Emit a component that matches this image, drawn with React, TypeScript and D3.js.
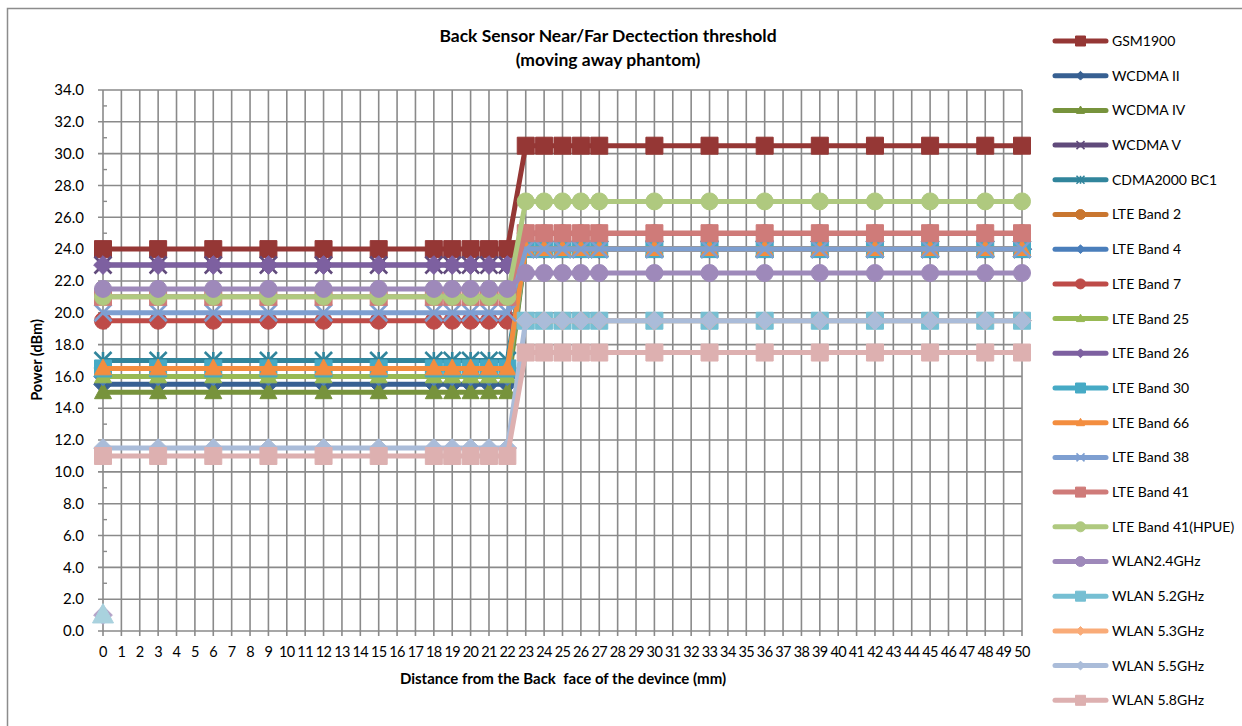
import React from "react";
import * as d3 from "d3";

const distances: number[] = [0, 3, 6, 9, 12, 15, 18, 19, 20, 21, 22, 23, 24, 25, 26, 27, 30, 33, 36, 39, 42, 45, 48, 50];
const categories: number[] = d3.range(0, 51);
const yTicks: number[] = [0, 2, 4, 6, 8, 10, 12, 14, 16, 18, 20, 22, 24, 26, 28, 30, 32, 34];

const gsm1900 = [24, 24, 24, 24, 24, 24, 24, 24, 24, 24, 24, 30.5, 30.5, 30.5, 30.5, 30.5, 30.5, 30.5, 30.5, 30.5, 30.5, 30.5, 30.5, 30.5];
const wcdma2 = [15.5, 15.5, 15.5, 15.5, 15.5, 15.5, 15.5, 15.5, 15.5, 15.5, 15.5, 24, 24, 24, 24, 24, 24, 24, 24, 24, 24, 24, 24, 24];
const wcdma4 = [15, 15, 15, 15, 15, 15, 15, 15, 15, 15, 15, 24, 24, 24, 24, 24, 24, 24, 24, 24, 24, 24, 24, 24];
const wcdma5 = [23, 23, 23, 23, 23, 23, 23, 23, 23, 23, 23, 24, 24, 24, 24, 24, 24, 24, 24, 24, 24, 24, 24, 24];
const cdma2000 = [17, 17, 17, 17, 17, 17, 17, 17, 17, 17, 17, 24, 24, 24, 24, 24, 24, 24, 24, 24, 24, 24, 24, 24];
const lte2 = [16.5, 16.5, 16.5, 16.5, 16.5, 16.5, 16.5, 16.5, 16.5, 16.5, 16.5, 24, 24, 24, 24, 24, 24, 24, 24, 24, 24, 24, 24, 24];
const lte4 = [16, 16, 16, 16, 16, 16, 16, 16, 16, 16, 16, 24, 24, 24, 24, 24, 24, 24, 24, 24, 24, 24, 24, 24];
const lte7 = [19.5, 19.5, 19.5, 19.5, 19.5, 19.5, 19.5, 19.5, 19.5, 19.5, 19.5, 25, 25, 25, 25, 25, 25, 25, 25, 25, 25, 25, 25, 25];
const lte25 = [16, 16, 16, 16, 16, 16, 16, 16, 16, 16, 16, 24, 24, 24, 24, 24, 24, 24, 24, 24, 24, 24, 24, 24];
const lte26 = [23, 23, 23, 23, 23, 23, 23, 23, 23, 23, 23, 24, 24, 24, 24, 24, 24, 24, 24, 24, 24, 24, 24, 24];
const lte30 = [16.5, 16.5, 16.5, 16.5, 16.5, 16.5, 16.5, 16.5, 16.5, 16.5, 16.5, 24, 24, 24, 24, 24, 24, 24, 24, 24, 24, 24, 24, 24];
const lte66 = [16.5, 16.5, 16.5, 16.5, 16.5, 16.5, 16.5, 16.5, 16.5, 16.5, 16.5, 24, 24, 24, 24, 24, 24, 24, 24, 24, 24, 24, 24, 24];
const lte38 = [20, 20, 20, 20, 20, 20, 20, 20, 20, 20, 20, 24, 24, 24, 24, 24, 24, 24, 24, 24, 24, 24, 24, 24];
const lte41 = [21, 21, 21, 21, 21, 21, 21, 21, 21, 21, 21, 25, 25, 25, 25, 25, 25, 25, 25, 25, 25, 25, 25, 25];
const lte41hpue = [21, 21, 21, 21, 21, 21, 21, 21, 21, 21, 21, 27, 27, 27, 27, 27, 27, 27, 27, 27, 27, 27, 27, 27];
const wlan24 = [21.5, 21.5, 21.5, 21.5, 21.5, 21.5, 21.5, 21.5, 21.5, 21.5, 21.5, 22.5, 22.5, 22.5, 22.5, 22.5, 22.5, 22.5, 22.5, 22.5, 22.5, 22.5, 22.5, 22.5];
const wlan52 = [null, null, null, null, null, null, null, null, null, null, null, 19.5, 19.5, 19.5, 19.5, 19.5, 19.5, 19.5, 19.5, 19.5, 19.5, 19.5, 19.5, 19.5];
const wlan53 = [null, null, null, null, null, null, null, null, null, null, null, 19.5, 19.5, 19.5, 19.5, 19.5, 19.5, 19.5, 19.5, 19.5, 19.5, 19.5, 19.5, 19.5];
const wlan55 = [11.5, 11.5, 11.5, 11.5, 11.5, 11.5, 11.5, 11.5, 11.5, 11.5, 11.5, 19.5, 19.5, 19.5, 19.5, 19.5, 19.5, 19.5, 19.5, 19.5, 19.5, 19.5, 19.5, 19.5];
const wlan58 = [11, 11, 11, 11, 11, 11, 11, 11, 11, 11, 11, 17.5, 17.5, 17.5, 17.5, 17.5, 17.5, 17.5, 17.5, 17.5, 17.5, 17.5, 17.5, 17.5];

// stray points at distance 0 (not in legend)
const strayX = [0, 0];
const strayY = [1, 1];

type Marker = "square" | "diamond" | "triangle" | "x" | "star" | "circle";
const seriesNames = ["GSM1900", "WCDMA II", "WCDMA IV", "WCDMA V", "CDMA2000 BC1", "LTE Band 2", "LTE Band 4", "LTE Band 7", "LTE Band 25", "LTE Band 26", "LTE Band 30", "LTE Band 66", "LTE Band 38", "LTE Band 41", "LTE Band 41(HPUE)", "WLAN2.4GHz", "WLAN 5.2GHz", "WLAN 5.3GHz", "WLAN 5.5GHz", "WLAN 5.8GHz"];
const seriesValues: (number | null)[][] = [gsm1900, wcdma2, wcdma4, wcdma5, cdma2000, lte2, lte4, lte7, lte25, lte26, lte30, lte66, lte38, lte41, lte41hpue, wlan24, wlan52, wlan53, wlan55, wlan58];
const seriesColors = ["#953735", "#376092", "#77933c", "#604a7b", "#31859c", "#c9762f", "#4a7ebb", "#be4b48", "#98b954", "#7d60a0", "#46aac5", "#f38d3f", "#7e9fd1", "#cf7b79", "#afc97f", "#9e89ba", "#76bfd3", "#f9ab78", "#aabcd9", "#ddb0b0"];
const seriesMarkers: Marker[] = ["square", "diamond", "triangle", "x", "star", "circle", "diamond", "circle", "triangle", "diamond", "square", "triangle", "x", "square", "circle", "circle", "square", "diamond", "diamond", "square"];
const strayColors = ["#b3a2c7", "#a9d2de"];
const strayMarkers: Marker[] = ["diamond", "triangle"];

const W = 1242;
const H = 726;
const FONT = "Lato, 'Open Sans', sans-serif";
const GRID = "#8a8a8a";

function markerPath(type: Marker, s: number): string {
  const h = s / 2;
  switch (type) {
    case "square":
      return `M${-h},${-h}H${h}V${h}H${-h}Z`;
    case "diamond":
      return `M0,${-h * 1.1}L${h * 1.1},0L0,${h * 1.1}L${-h * 1.1},0Z`;
    case "triangle":
      return `M0,${-h * 1.1}L${h},${h * 0.75}L${-h},${h * 0.75}Z`;
    case "circle":
      return d3.symbol(d3.symbolCircle, Math.PI * h * h)() || "";
    case "x":
    case "star":
      return "";
  }
  return "";
}

function MarkerShape({ type, size, color, x, y }: { type: Marker; size: number; color: string; x: number; y: number }) {
  const h = size / 2;
  if (type === "x" || type === "star") {
    return (
      <g transform={`translate(${x},${y})`} stroke={color} strokeWidth={size > 10 ? 2.6 : 1.6} strokeLinecap="butt">
        <line x1={-h} y1={-h} x2={h} y2={h} />
        <line x1={-h} y1={h} x2={h} y2={-h} />
        {type === "star" && <line x1={0} y1={-h} x2={0} y2={h} />}
      </g>
    );
  }
  return <path transform={`translate(${x},${y})`} d={markerPath(type, size)} fill={color} stroke={color} strokeWidth={1} />;
}

export default function App() {
  const x = d3.scaleLinear().domain([0, 50]).range([103, 1022]);
  const y = d3.scaleLinear().domain([0, 34]).range([631, 90]);
  const line = d3
    .line<[number, number | null]>()
    .defined((d) => d[1] !== null)
    .x((d) => x(d[0]))
    .y((d) => y(d[1] as number));

  const minor = d3.range(1, 34, 2);

  return (
    <svg width={W} height={H} style={{ position: "absolute", left: 0, top: 0, background: "#fff" }} fontFamily={FONT}>
      <rect x={7.5} y={8.5} width={W + 10} height={H + 10} fill="#fff" stroke="#8c8c8c" strokeWidth={1.5} />

      {/* grid */}
      {yTicks.map((t) => (
        <line key={"h" + t} x1={98} x2={x(50)} y1={y(t)} y2={y(t)} stroke={GRID} strokeWidth={1.6} />
      ))}
      {categories.map((c) => (
        <line key={"v" + c} x1={x(c)} x2={x(c)} y1={y(34)} y2={y(0) + 5} stroke={GRID} strokeWidth={1.6} />
      ))}
      {minor.map((m) => (
        <line key={"m" + m} x1={x(0)} x2={x(0) + 4} y1={y(m)} y2={y(m)} stroke={GRID} strokeWidth={1.4} />
      ))}

      {/* y labels */}
      {yTicks.map((t) => (
        <text key={"yl" + t} x={84} y={y(t)} dy="0.35em" textAnchor="end" fontSize={15} fill="#000">
          {t.toFixed(1)}
        </text>
      ))}
      {/* x labels */}
      {categories.map((c) => (
        <text key={"xl" + c} x={x(c)} y={657} textAnchor="middle" fontSize={14.5} letterSpacing={-0.6} fill="#000">
          {c}
        </text>
      ))}

      {/* series */}
      {seriesValues.map((vals, i) => {
        const pts: [number, number | null][] = distances.map((d, k) => [d, vals[k]]);
        return (
          <g key={"s" + i}>
            <path d={line(pts) || ""} fill="none" stroke={seriesColors[i]} strokeWidth={5} strokeLinejoin="round" />
            {pts
              .filter((p) => p[1] !== null)
              .map((p, k) => (
                <MarkerShape key={k} type={seriesMarkers[i]} size={17} color={seriesColors[i]} x={x(p[0])} y={y(p[1] as number)} />
              ))}
          </g>
        );
      })}
      {strayX.map((sx, i) => (
        <MarkerShape key={"st" + i} type={strayMarkers[i]} size={i === 1 ? 21 : 17} color={strayColors[i]} x={x(sx)} y={y(strayY[i])} />
      ))}

      {/* titles */}
      <text x={608} y={42} textAnchor="middle" fontSize={17.5} fontWeight="bold" fill="#000">
        Back Sensor Near/Far Dectection threshold
      </text>
      <text x={608} y={66} textAnchor="middle" fontSize={17.5} fontWeight="bold" fill="#000">
        (moving away phantom)
      </text>
      <text x={563} y={684} textAnchor="middle" fontSize={15} fontWeight="bold" fill="#000" style={{ whiteSpace: "pre" }}>
        {"Distance from the Back  face of the devince (mm)"}
      </text>
      <text transform="translate(42,360) rotate(-90)" textAnchor="middle" fontSize={14.5} fontWeight="bold" fill="#000">
        Power (dBm)
      </text>

      {/* legend */}
      {seriesNames.map((name, i) => {
        const ly = 41 + i * 34.7;
        const m = seriesMarkers[i];
        const ms = m === "square" || m === "circle" ? 10 : 8;
        return (
          <g key={"lg" + i}>
            <line x1={1055} x2={1106} y1={ly} y2={ly} stroke={seriesColors[i]} strokeWidth={5} strokeLinecap="round" />
            <MarkerShape type={m} size={ms} color={seriesColors[i]} x={1080.5} y={ly} />
            <text x={1112} y={ly} dy="0.35em" fontSize={14} fill="#000">
              {name}
            </text>
          </g>
        );
      })}
    </svg>
  );
}
